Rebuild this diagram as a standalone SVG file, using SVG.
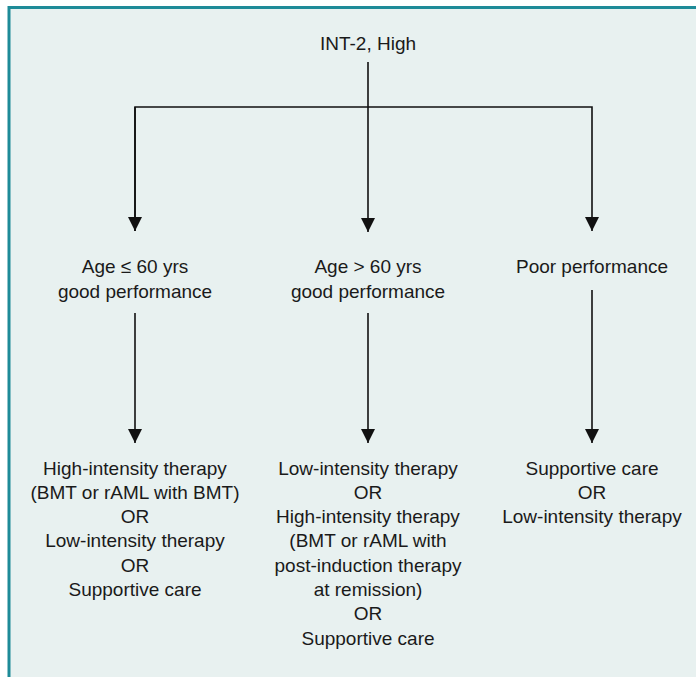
<svg xmlns="http://www.w3.org/2000/svg" width="696" height="677" viewBox="0 0 696 677">
<style>
  text { font-family: "Liberation Sans", Arial, sans-serif; font-size: 19px; fill: #1a1a1a; text-anchor: middle; }
  .conn { stroke: #111; stroke-width: 1.6; fill: none; }
</style>
<defs>
  <marker id="arr" markerUnits="userSpaceOnUse" markerWidth="15" markerHeight="14" refX="14" refY="7" orient="auto">
    <path d="M0,0 L14,7 L0,14 Z" fill="#111"/>
  </marker>
</defs>
<rect x="0" y="0" width="696" height="677" fill="#ffffff"/>
<rect x="9" y="7.5" width="700" height="680" fill="#e8f1f0" stroke="#1e8b98" stroke-width="3"/>
<g id="connectors">
  <line class="conn" x1="368" y1="62" x2="368" y2="232" marker-end="url(#arr)"/>
  <polyline class="conn" points="135,231 135,107 592,107 592,231" marker-end="url(#arr)"/>
  <line class="conn" x1="135" y1="107" x2="135" y2="231" marker-end="url(#arr)"/>
  <line class="conn" x1="135" y1="313" x2="135" y2="443" marker-end="url(#arr)"/>
  <line class="conn" x1="368" y1="313" x2="368" y2="443" marker-end="url(#arr)"/>
  <line class="conn" x1="592" y1="290" x2="592" y2="443" marker-end="url(#arr)"/>
</g>
<g id="root"><text x="368" y="50">INT-2, High</text></g>
<g id="age-le-60"><text x="135" y="273">Age ≤ 60 yrs</text><text x="135" y="298">good performance</text></g>
<g id="age-gt-60"><text x="368" y="273">Age &gt; 60 yrs</text><text x="368" y="298">good performance</text></g>
<g id="poor"><text x="592" y="273">Poor performance</text></g>
<g id="tx-left">
  <text x="135" y="475">High-intensity therapy</text>
  <text x="135" y="499">(BMT or rAML with BMT)</text>
  <text x="135" y="523">OR</text>
  <text x="135" y="547">Low-intensity therapy</text>
  <text x="135" y="572">OR</text>
  <text x="135" y="596">Supportive care</text>
</g>
<g id="tx-mid">
  <text x="368" y="475">Low-intensity therapy</text>
  <text x="368" y="499">OR</text>
  <text x="368" y="523">High-intensity therapy</text>
  <text x="368" y="547">(BMT or rAML with</text>
  <text x="368" y="572">post-induction therapy</text>
  <text x="368" y="596">at remission)</text>
  <text x="368" y="620">OR</text>
  <text x="368" y="645">Supportive care</text>
</g>
<g id="tx-right">
  <text x="592" y="475">Supportive care</text>
  <text x="592" y="499">OR</text>
  <text x="592" y="523">Low-intensity therapy</text>
</g>
</svg>
